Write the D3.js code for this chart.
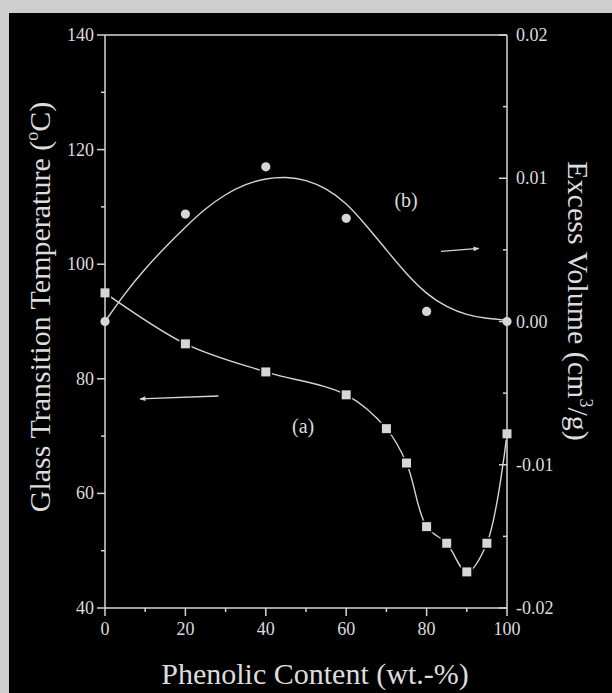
<!DOCTYPE html>
<html>
<head>
<meta charset="utf-8">
<script src="https://cdn.jsdelivr.net/npm/d3@7"></script>
<style>
body { margin: 0; background: #cecece; }
svg { display: block; font-family: "Liberation Serif", "Times New Roman", serif; }
</style>
</head>
<body>
<svg id="chart" width="612" height="693"></svg>
<script>
// (a) glass transition temperature, left axis
var phenolA = [0, 20, 40, 60, 70, 75, 80, 85, 90, 95, 100]
var tgA = [95, 86.1, 81.2, 77.2, 71.3, 65.3, 54.2, 51.3, 46.3, 51.3, 70.4]

// (b) excess volume, right axis
var phenolB = [0, 20, 40, 60, 80, 100]
var volB = [0, 0.0075, 0.0108, 0.0072, 0.0007, 0]

// fitted curve for (b)
var fitX = [0, 5, 10, 15, 20, 25, 30, 35, 40, 45, 50, 55, 60, 65, 70, 75, 80, 85, 90, 95, 100]
var fitV = [0, 0.0020, 0.0037, 0.0052, 0.0066, 0.0079, 0.0089, 0.0096, 0.0100, 0.0101, 0.0099,
            0.0093, 0.0083, 0.0067, 0.0050, 0.0033, 0.0019, 0.0010, 0.00045, 0.0002, 0.0001]

var xTicks = [0, 20, 40, 60, 80, 100]
var xMinor = [10, 30, 50, 70, 90]
var tgTicks = [40, 60, 80, 100, 120, 140]
var tgMinor = [50, 70, 90, 110, 130]
var volTicks = [-0.02, -0.01, 0, 0.01, 0.02]
var volLabels = ["-0.02", "-0.01", "0.00", "0.01", "0.02"]
var volMinor = [-0.015, -0.005, 0.005, 0.015]

var fg = "#d6d6d6"
var txt = "#dcdcdc"

var svg = d3.select("#chart")
svg.append("rect").attr("x", 9).attr("y", 13).attr("width", 603).attr("height", 680).attr("fill", "#000")

var pLeft = 105, pRight = 507, pTop = 35, pBottom = 608

var x = d3.scaleLinear().domain([0, 100]).range([pLeft, pRight])
var yT = d3.scaleLinear().domain([40, 140]).range([pBottom, pTop])
var yV = d3.scaleLinear().domain([-0.02, 0.02]).range([pBottom, pTop])

var defs = svg.append("defs")
defs.append("marker").attr("id", "head").attr("viewBox", "0 0 10 10")
	.attr("refX", 9).attr("refY", 5).attr("markerWidth", 12).attr("markerHeight", 6)
	.attr("orient", "auto").attr("markerUnits", "userSpaceOnUse")
	.append("path").attr("d", "M0,1 L10,5 L0,9 Z").attr("fill", fg)

// curves
var lineA = d3.line().x(function(d) { return x(d[0]) }).y(function(d) { return yT(d[1]) })
	.curve(d3.curveCatmullRom.alpha(0.5))
svg.append("path")
	.attr("d", lineA(phenolA.map(function(p, i) { return [p, tgA[i]] })))
	.attr("fill", "none").attr("stroke", fg).attr("stroke-width", 1.4)

var lineB = d3.line().x(function(d) { return x(d[0]) }).y(function(d) { return yV(d[1]) })
	.curve(d3.curveBasis)
svg.append("path")
	.attr("d", lineB(fitX.map(function(p, i) { return [p, fitV[i]] })))
	.attr("fill", "none").attr("stroke", fg).attr("stroke-width", 1.4)

// markers
svg.selectAll(".sq").data(phenolA).enter().append("rect")
	.attr("class", "sq")
	.attr("x", function(d) { return x(d) - 4.5 })
	.attr("y", function(d, i) { return yT(tgA[i]) - 4.5 })
	.attr("width", 9).attr("height", 9)
	.attr("fill", fg).attr("stroke", "#000").attr("stroke-width", 3).attr("paint-order", "stroke")

svg.selectAll(".dot").data(phenolB).enter().append("circle")
	.attr("class", "dot")
	.attr("cx", function(d) { return x(d) })
	.attr("cy", function(d, i) { return yV(volB[i]) })
	.attr("r", 4.6)
	.attr("fill", fg)

// axes
var axisG = svg.append("g").attr("stroke", fg).attr("stroke-width", 1.5).attr("fill", "none")
axisG.append("line").attr("x1", pLeft).attr("x2", pRight).attr("y1", pTop).attr("y2", pTop)
axisG.append("line").attr("x1", pLeft).attr("x2", pRight).attr("y1", pBottom).attr("y2", pBottom)
axisG.append("line").attr("x1", pLeft).attr("x2", pLeft).attr("y1", pTop).attr("y2", pBottom)
axisG.append("line").attr("x1", pRight).attr("x2", pRight).attr("y1", pTop).attr("y2", pBottom)

axisG.selectAll(".tx").data(xTicks).enter().append("line")
	.attr("x1", function(d) { return x(d) }).attr("x2", function(d) { return x(d) })
	.attr("y1", pBottom).attr("y2", pBottom + 8)
axisG.selectAll(".txm").data(xMinor).enter().append("line")
	.attr("x1", function(d) { return x(d) }).attr("x2", function(d) { return x(d) })
	.attr("y1", pBottom).attr("y2", pBottom + 4)
axisG.selectAll(".tt").data(tgTicks).enter().append("line")
	.attr("x1", pLeft - 8).attr("x2", pLeft)
	.attr("y1", function(d) { return yT(d) }).attr("y2", function(d) { return yT(d) })
axisG.selectAll(".ttm").data(tgMinor).enter().append("line")
	.attr("x1", pLeft - 4).attr("x2", pLeft)
	.attr("y1", function(d) { return yT(d) }).attr("y2", function(d) { return yT(d) })
axisG.selectAll(".tv").data(volTicks).enter().append("line")
	.attr("x1", pRight - 8).attr("x2", pRight)
	.attr("y1", function(d) { return yV(d) }).attr("y2", function(d) { return yV(d) })
axisG.selectAll(".tvm").data(volMinor).enter().append("line")
	.attr("x1", pRight - 4).attr("x2", pRight)
	.attr("y1", function(d) { return yV(d) }).attr("y2", function(d) { return yV(d) })

// tick labels
var lab = svg.append("g").attr("fill", txt).attr("font-size", 18)
lab.selectAll(".lx").data(xTicks).enter().append("text")
	.attr("x", function(d) { return x(d) }).attr("y", pBottom + 27)
	.attr("text-anchor", "middle").text(function(d) { return d })
lab.selectAll(".lt").data(tgTicks).enter().append("text")
	.attr("x", pLeft - 11).attr("y", function(d) { return yT(d) + 6 })
	.attr("text-anchor", "end").text(function(d) { return d })
lab.selectAll(".lv").data(volTicks).enter().append("text")
	.attr("x", pRight + 9).attr("y", function(d) { return yV(d) + 6 })
	.text(function(d, i) { return volLabels[i] })

// axis titles
svg.append("text").attr("fill", txt).attr("font-size", 30)
	.attr("text-anchor", "middle").attr("x", 315).attr("y", 684)
	.text("Phenolic Content (wt.-%)")

var lt = svg.append("text").attr("fill", txt).attr("font-size", 30)
	.attr("text-anchor", "middle")
	.attr("transform", "translate(50," + 307 + ") rotate(-90)")
lt.append("tspan").text("Glass Transition Temperature (")
lt.append("tspan").attr("font-size", 18).attr("dy", -12).text("o")
lt.append("tspan").attr("dy", 12).text("C)")

var rt = svg.append("text").attr("fill", txt).attr("font-size", 30)
	.attr("text-anchor", "middle")
	.attr("transform", "translate(568," + 301 + ") rotate(90)")
rt.append("tspan").text("Excess Volume (cm")
rt.append("tspan").attr("font-size", 18).attr("dy", -12).text("3")
rt.append("tspan").attr("dy", 12).text("/g)")

// annotations
svg.append("text").attr("fill", txt).attr("font-size", 20).attr("text-anchor", "middle")
	.attr("x", x(49.3)).attr("y", yT(71.6) + 6).text("(a)")
svg.append("text").attr("fill", txt).attr("font-size", 20).attr("text-anchor", "middle")
	.attr("x", x(74.9)).attr("y", yV(0.0084) + 6).text("(b)")

svg.append("line").attr("stroke", fg).attr("stroke-width", 1.3)
	.attr("x1", x(28.2)).attr("y1", yT(77.0)).attr("x2", x(8.7)).attr("y2", yT(76.5))
	.attr("marker-end", "url(#head)")
svg.append("line").attr("stroke", fg).attr("stroke-width", 1.3)
	.attr("x1", x(83.6)).attr("y1", yV(0.0049)).attr("x2", x(93)).attr("y2", yV(0.0051))
	.attr("marker-end", "url(#head)")
</script>
</body>
</html>
